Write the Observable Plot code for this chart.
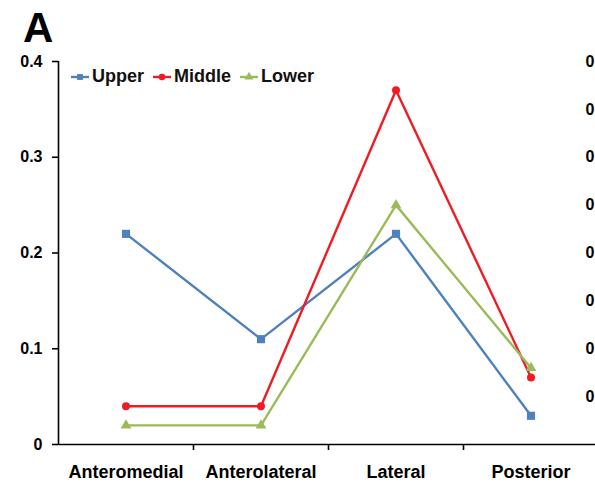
<!DOCTYPE html>
<html>
<head>
<meta charset="utf-8">
<script src="https://cdn.jsdelivr.net/npm/d3@7"></script>
<script src="https://cdn.jsdelivr.net/npm/@observablehq/plot@0.6"></script>
<style>
  html, body { margin: 0; padding: 0; background: #fff; }
  #wrap { position: relative; width: 595px; height: 489px; overflow: hidden; font-family: "Liberation Sans", Arial, sans-serif; }
  #panel { position: absolute; left: 23px; top: 7px; font-size: 42px; font-weight: bold; line-height: 1; color: #000; }
  #legend { position: absolute; left: 70px; top: 66px; display: flex; align-items: center; font-size: 18px; font-weight: bold; color: #111; }
  .item { display: flex; align-items: center; margin-right: 8px; }
  .item svg { margin-right: 2px; }
</style>
</head>
<body>
<div id="wrap">
  <div id="panel">A</div>
  <div id="legend"></div>
</div>
<script>
const categories = ["Anteromedial", "Anterolateral", "Lateral", "Posterior"];
const seriesNames = ["Upper", "Middle", "Lower"];
const upper  = [0.22, 0.11, 0.22, 0.03];
const middle = [0.04, 0.04, 0.37, 0.07];
const lower  = [0.02, 0.02, 0.25, 0.08];
const yTicks = [0, 0.1, 0.2, 0.3, 0.4];
// partially visible tick labels of the neighbouring panel at the right edge
const neighbourLabels = ["0", "0", "0", "0", "0", "0", "0", "0"];
const neighbourY = [0.4, 0.35, 0.3, 0.25, 0.2, 0.15, 0.1, 0.05];

const colors = {Upper: "#4F81BD", Middle: "#EE1C25", Lower: "#9BBB59"};
const symbols = {Upper: "square", Middle: "circle", Lower: "triangle"};
const radii = {Upper: 4.6, Middle: 4, Lower: 4};

const seriesValues = [upper, middle, lower];
const data = [];
seriesNames.forEach((s, si) => seriesValues[si].forEach((v, i) => data.push({series: s, i, value: v})));

const font = "Liberation Sans, Arial, sans-serif";
const marks = [];
for (const s of seriesNames) {
  const d = data.filter(e => e.series === s);
  marks.push(Plot.line(d, {x: "i", y: "value", stroke: colors[s], strokeWidth: 2.4}));
  marks.push(Plot.dot(d, {x: "i", y: "value", fill: colors[s], stroke: "none", symbol: symbols[s], r: radii[s]}));
}

const chart = Plot.plot({
  width: 595,
  height: 489,
  marginTop: 61,
  marginBottom: 45,
  marginLeft: 58,
  marginRight: 0,
  style: {fontFamily: font, fontWeight: "bold", fontSize: "16px", color: "#000", background: "transparent"},
  x: {domain: [-0.5, 3.5], range: [58, 598]},
  y: {domain: [0, 0.4], range: [444, 61]},
  marks: [
    Plot.axisY({ticks: yTicks, tickSize: 6, tickPadding: 10, tickFormat: d => d === 0 ? "0" : d3.format(".1f")(d), fontSize: 16, fontWeight: "bold", label: null, strokeWidth: 1.6}),
    Plot.axisX({ticks: [0.5, 1.5, 2.5], tickSize: 6, tickFormat: () => "", label: null, strokeWidth: 1.6}),
    Plot.axisX({ticks: [0, 1, 2, 3], tickSize: 0, tickPadding: 21, tickFormat: i => categories[i], fontSize: 18, fontWeight: "bold", label: null}),
    Plot.ruleX([-0.5], {y1: 0, y2: 0.4, stroke: "#000", strokeWidth: 1.6}),
    Plot.ruleY([0], {x1: -0.5, x2: 3.5, stroke: "#000", strokeWidth: 1.6}),
    ...marks,
    Plot.text(neighbourLabels, {x: 3.5, y: (d, i) => neighbourY[i], dx: -4, text: d => d, textAnchor: "end", fontSize: 16, fontWeight: "bold", fill: "#000"})
  ]
});
document.getElementById("wrap").prepend(chart);
chart.style.position = "absolute";
chart.style.left = "0";
chart.style.top = "0";

const legend = document.getElementById("legend");
for (const s of seriesNames) {
  const item = document.createElement("div");
  item.className = "item";
  const sym = d3.symbol(s === "Upper" ? d3.symbolSquare : s === "Middle" ? d3.symbolCircle : d3.symbolTriangle, Math.PI * 3.3 * 3.3)();
  item.innerHTML = `<svg width="20" height="14" viewBox="0 0 20 14"><line x1="1" x2="19" y1="7" y2="7" stroke="${colors[s]}" stroke-width="2.4"/><path d="${sym}" transform="translate(10,7)" fill="${colors[s]}"/></svg><span>${s}</span>`;
  legend.appendChild(item);
}
</script>
</body>
</html>
